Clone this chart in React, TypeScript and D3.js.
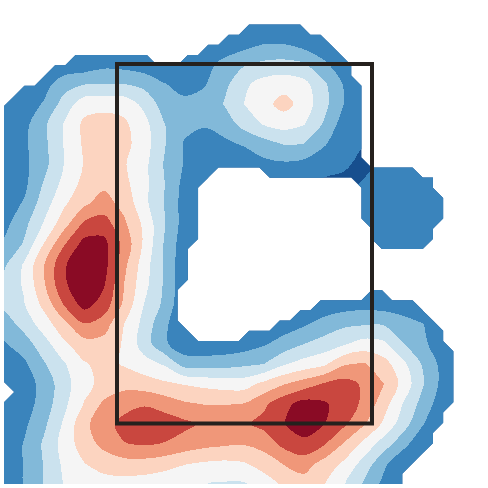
import * as d3 from "d3";

// band colours, low to high
const bandColors = ["#174f8e", "#3a84bc", "#82b9d9", "#cbe2ee", "#f5f5f5", "#fcd4c0", "#f09779", "#c9473f", "#8a0b25"];
const bandLevels = [0, 1, 2, 3, 4, 5, 6, 7, 8];

const field = [
  [1.1,1.1,1.1,1.1,1.1,1.1,1.1,1.1,1.1,1.1,1.1,1.1,1.1,1.1,1.1,1.1,1.1,1.1,1.1,1.1,1.1,1.1,1.1,1.1,1.1],
  [1.1,1.1,1.1,1.1,1.1,1.1,1.1,1.1,1.1,1.1,1.1,1.1,1.2,1.3,1.3,1.2,1.1,1.1,1.1,1.1,1.1,1.1,1.1,1.1,1.1],
  [1.1,1.1,1.1,1.1,1.1,1.1,1.1,1.1,1.1,1.1,1.1,1.3,1.6,2.0,2.0,1.6,1.2,1.1,1.1,1.1,1.1,1.1,1.1,1.1,1.1],
  [1.1,1.1,1.1,1.2,1.3,1.7,1.6,1.4,1.2,1.2,1.6,2.3,2.9,3.2,3.3,3.1,2.2,1.3,1.1,1.1,1.1,1.1,1.1,1.1,1.1],
  [1.1,1.1,1.6,2.6,2.95,3.0,3.0,2.7,2.05,1.7,1.9,2.7,3.8,4.4,4.6,4.3,3.2,1.9,1.1,1.1,1.1,1.1,1.1,1.1,1.1],
  [1.1,1.4,2.1,3.4,4.6,4.7,4.6,3.75,2.55,2.2,2.4,3.05,4.0,4.7,5.37,4.6,3.3,2.0,1.1,1.1,1.1,1.1,1.1,1.1,1.1],
  [1.2,1.7,2.8,4.05,5.2,5.4,5.2,4.35,3.05,2.2,2.1,2.4,3.4,4.1,4.4,4.05,2.9,1.5,1.1,1.1,1.1,1.1,1.1,1.1,1.1],
  [1.3,1.8,2.75,4.05,5.15,5.5,5.3,4.5,3.1,1.95,1.55,1.8,2.1,2.6,3.05,3.0,2.1,1.4,1.05,1.1,1.1,1.1,1.1,1.1,1.1],
  [1.3,1.75,2.7,4.0,5.05,5.4,5.1,4.3,2.95,1.95,1.3,1.1,1.3,1.75,1.85,1.7,1.4,1.15,0.75,1.3,1.3,1.3,1.3,1.1,1.1],
  [1.35,1.75,3.1,4.3,5.3,5.8,5.3,4.3,3.05,1.7,1.2,1.2,1.2,1.2,1.2,1.1,0.8,0.75,1.1,1.3,1.3,1.3,1.2,1.1,1.1],
  [1.5,2.1,3.55,4.85,5.85,6.4,5.7,4.3,3.0,1.6,1.2,1.2,1.2,1.2,1.2,1.2,1.2,1.2,1.3,1.3,1.3,1.3,1.3,1.1,1.1],
  [1.7,2.7,4.1,5.6,7.2,7.5,6.2,4.8,3.1,1.6,1.2,1.2,1.2,1.2,1.2,1.2,1.2,1.2,1.3,1.3,1.3,1.3,1.1,1.1,1.1],
  [2.15,3.1,5.05,6.9,8.35,8.3,6.7,4.85,2.95,1.4,1.2,1.2,1.2,1.2,1.2,1.2,1.2,1.2,1.2,1.3,1.3,1.2,1.1,1.1,1.1],
  [2.8,4.1,5.95,7.9,8.6,8.4,6.3,4.5,2.9,1.3,1.2,1.2,1.2,1.2,1.2,1.2,1.2,1.2,1.1,1.1,1.1,1.1,1.1,1.1,1.1],
  [3.4,4.1,5.9,7.9,8.5,8.1,6.0,4.35,2.9,1.2,1.2,1.2,1.2,1.2,1.2,1.2,1.2,1.2,1.2,1.2,1.1,1.1,1.1,1.1,1.1],
  [3.25,3.95,5.3,7.1,8.4,7.6,5.8,4.0,2.8,1.2,1.2,1.2,1.2,1.2,1.2,1.2,1.3,1.5,1.6,1.5,1.1,1.1,1.1,1.1,1.1],
  [2.45,3.4,4.5,5.7,6.95,6.5,5.0,3.7,2.2,1.3,1.2,1.2,1.2,1.3,1.5,1.85,2.4,2.8,2.9,2.9,2.6,2.0,1.1,1.1,1.1],
  [1.9,2.5,3.6,4.8,5.6,5.6,4.9,3.5,2.2,1.3,1.3,1.3,1.5,1.9,2.4,3.0,3.4,3.9,4.4,4.2,3.0,2.2,1.2,1.1,1.1],
  [1.3,1.8,2.9,3.9,4.9,5.3,4.9,4.4,3.9,2.6,2.5,2.6,2.8,3.0,3.9,4.4,4.8,5.9,6.1,5.4,4.2,2.8,1.6,1.1,1.1],
  [1.2,1.5,2.35,3.6,4.7,5.3,5.7,5.5,5.2,4.95,4.75,4.6,4.55,5.3,5.95,6.5,7.1,7.4,6.85,6.0,4.6,3.0,1.6,1.1,1.1],
  [1.2,1.5,2.45,3.75,5.05,6.2,6.6,6.9,6.6,6.15,5.97,5.95,6.05,6.8,7.7,8.4,8.15,7.55,6.8,5.4,3.9,2.55,1.3,1.1,1.1],
  [1.3,1.8,2.8,4.15,5.75,6.6,7.35,7.7,7.55,7.25,6.85,6.7,6.85,7.3,8.0,8.4,8.05,7.2,6.1,4.8,3.4,2.0,1.1,1.1,1.1],
  [1.3,2.05,3.15,4.4,5.5,6.3,6.95,7.1,6.95,6.6,6.3,6.15,6.05,6.4,7.3,7.8,7.1,5.9,4.7,3.5,2.3,1.1,1.1,1.1,1.1],
  [1.3,2.05,3.05,4.2,4.95,5.4,5.6,5.6,5.4,5.05,4.85,4.75,4.9,5.4,6.05,6.4,5.6,4.8,3.6,2.2,1.1,1.1,1.1,1.1,1.1],
  [1.3,2.05,3.05,4.05,4.4,4.6,4.6,4.5,4.3,4.15,4.02,3.9,3.9,4.5,5.2,5.6,5.05,4.05,2.85,1.7,1.05,1.1,1.1,1.1,1.1],
];

// which points of the 48x48 sample grid have data: rows 2..47, inclusive column spans
const validSpans: number[][][] = [
  [[24, 29]],
  [[22, 31]],
  [[20, 32]],
  [[7, 14], [18, 33]],
  [[5, 34]],
  [[4, 34]],
  [[2, 35]],
  [[1, 35]],
  [[0, 35]], [[0, 35]], [[0, 35]], [[0, 35]], [[0, 35]], [[0, 35]],
  [[0, 40]],
  [[0, 20], [26, 42]],
  [[0, 19], [35, 42]],
  [[0, 19], [35, 43]],
  [[0, 19], [35, 43]],
  [[0, 19], [35, 43]],
  [[0, 19], [36, 42]],
  [[0, 19], [36, 42]],
  [[0, 18], [37, 41]],
  [[0, 18]], [[0, 18]], [[0, 18]],
  [[0, 17], [36, 37]],
  [[0, 17], [31, 40]],
  [[0, 17], [29, 41]],
  [[0, 17], [27, 42]],
  [[0, 18], [24, 43]],
  [[0, 43]],
  [[0, 44]], [[0, 44]], [[0, 44]], [[0, 44]],
  [[1, 44]],
  [[0, 44]],
  [[0, 43]], [[0, 43]],
  [[0, 42]], [[0, 42]],
  [[0, 41]],
  [[0, 40]],
  [[0, 39]], [[0, 39]],
];

// the rectangle, in the units of the picture
const boxX = [117, 372];
const boxY = [64, 423.5];

const size = 488;
const fieldN = field.length;
const maskN = 48;

const fieldX = d3.scaleLinear().domain([0.5, fieldN - 0.5]).range([4, 484]);
const fieldY = d3.scaleLinear().domain([0.5, fieldN - 0.5]).range([4, 484]);
const maskX = d3.scaleLinear().domain([0.5, maskN - 0.5]).range([4, 484]);
const maskY = d3.scaleLinear().domain([0.5, maskN - 0.5]).range([4, 484]);

const maskPath = d3.geoPath(
  d3.geoTransform({
    point(x, y) {
      this.stream.point(maskX(x), maskY(y));
    },
  })
);

// contour rings come out straight-edged on the 20px grid, so round them off
const ringLine = d3
  .line<number[]>()
  .x((p) => fieldX(p[0]))
  .y((p) => fieldY(p[1]))
  .curve(d3.curveCatmullRomClosed.alpha(0.5));

function bandPath(b: d3.ContourMultiPolygon) {
  return b.coordinates
    .flat()
    .map((ring) => ringLine(ring.slice(0, -1)))
    .join("");
}

const bands = d3.contours().size([fieldN, fieldN]).thresholds(bandLevels)(field.flat());

const maskValues = new Array(maskN * maskN).fill(0);
validSpans.forEach((spans, r) => {
  spans.forEach(([a, b]) => {
    for (let i = a; i <= b; i++) maskValues[(r + 2) * maskN + i] = 1;
  });
});
const maskShape = d3.contours().size([maskN, maskN]).thresholds([0.999])(maskValues)[0];

export default function App() {
  return (
    <svg
      width={size}
      height={size}
      style={{ position: "absolute", left: 0, top: 0, background: "#ffffff" }}
    >
      <defs>
        <clipPath id="plot-area">
          <rect x={4} y={4} width={480} height={480} />
        </clipPath>
        <clipPath id="valid-area">
          <path d={maskPath(maskShape) || ""} />
        </clipPath>
      </defs>
      <g clipPath="url(#plot-area)">
        <g clipPath="url(#valid-area)">
          {bands.map((b, i) => (
            <path key={i} d={bandPath(b)} fill={bandColors[i]} fillRule="evenodd" shapeRendering="crispEdges" />
          ))}
        </g>
      </g>
      <rect
        x={boxX[0]}
        y={boxY[0]}
        width={boxX[1] - boxX[0]}
        height={boxY[1] - boxY[0]}
        fill="none"
        stroke="#25211e"
        strokeWidth={4}
      />
    </svg>
  );
}
